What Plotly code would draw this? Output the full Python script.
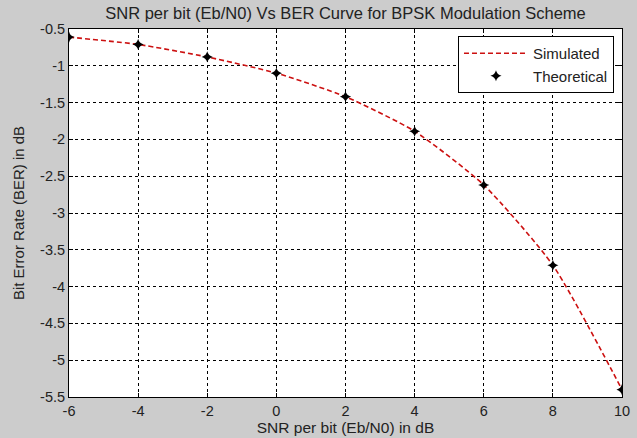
import plotly.graph_objects as go

# Eb/N0 in dB and BER in dB
ebno_db = [-6, -4, -2, 0, 2, 4, 6, 8, 10]
ber_simulated = [-0.61, -0.71, -0.88, -1.10, -1.42, -1.89, -2.62, -3.71, -5.40]
ber_theoretical = [-0.61, -0.71, -0.88, -1.10, -1.42, -1.89, -2.62, -3.71, -5.40]

x_ticks = [-6, -4, -2, 0, 2, 4, 6, 8, 10]
x_labels = ['-6', '-4', '-2', '0', '2', '4', '6', '8', '10']
y_ticks = [-0.5, -1, -1.5, -2, -2.5, -3, -3.5, -4, -4.5, -5, -5.5]
y_labels = ['-0.5', '-1', '-1.5', '-2', '-2.5', '-3', '-3.5', '-4', '-4.5', '-5', '-5.5']

FONT = 'Liberation Sans, Arial, sans-serif'

fig = go.Figure()
fig.add_trace(go.Scatter(x=ebno_db, y=ber_simulated, mode='lines', name='Simulated',
                         line=dict(color='#cc1010', width=1.6, dash='5px,3px', shape='spline', smoothing=0.6)))
fig.add_trace(go.Scatter(x=ebno_db, y=ber_theoretical, mode='markers', name='Theoretical',
                         marker=dict(symbol='star-diamond', size=8, color='black')))

fig.update_layout(
    width=637, height=438,
    margin=dict(l=69, r=15, t=29, b=41),
    paper_bgcolor='#cccccc',
    plot_bgcolor='white',
    font=dict(family=FONT, size=15, color='#222222'),
    title=dict(text='SNR per bit (Eb/N0) Vs BER Curve for BPSK Modulation Scheme',
               x=0.5, xref='paper', y=0.970, yref='container', yanchor='middle',
               font=dict(family=FONT, size=16.5, color='#222222')),
    legend=dict(x=0.9855, y=0.981, xanchor='right', yanchor='top',
                bgcolor='white', bordercolor='black', borderwidth=1, itemwidth=64,
                font=dict(family=FONT, size=15, color='#222222')),
)

fig.update_xaxes(range=[-6, 10], tickvals=x_ticks, ticktext=x_labels, automargin=False,
                 showgrid=True, gridcolor='black', gridwidth=1, griddash='3px,3px',
                 showline=True, linecolor='black', linewidth=1, mirror='ticks',
                 ticks='inside', ticklen=4, tickcolor='black', zeroline=False,
                 tickfont=dict(size=14.5), ticklabelstandoff=1,
                 title=dict(text='SNR per bit (Eb/N0) in dB', standoff=2, font=dict(size=15.5)))
fig.update_yaxes(range=[-5.5, -0.5], tickvals=y_ticks, ticktext=y_labels, automargin=False,
                 showgrid=True, gridcolor='black', gridwidth=1, griddash='3px,3px',
                 showline=True, linecolor='black', linewidth=1, mirror='ticks',
                 ticks='inside', ticklen=4, tickcolor='black', zeroline=False,
                 tickfont=dict(size=14.5),
                 title=dict(text='Bit Error Rate (BER) in dB', standoff=11, font=dict(size=15)))

# the page body has a default 8px margin; drop it so the figure fills the window
fig.write_html('out.html', config={'displayModeBar': False},
               post_script="document.body.style.margin='0';")
